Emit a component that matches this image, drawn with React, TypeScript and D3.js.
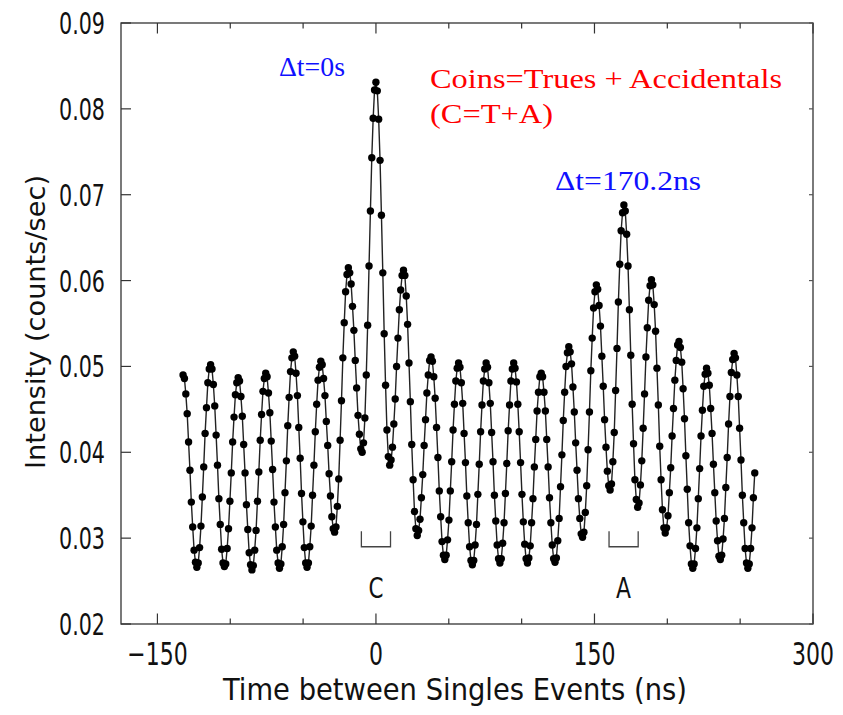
import React from "react";
import * as d3 from "d3";

// Coincidence-timing histogram: intensity (×1e-4 counts/sec) per time bin
const BIN_START = -132.4; // ns, first bin
const BIN_WIDTH = 0.9456; // ns per bin
const intensityE4: number[] = [
  490, 486, 468, 445, 412, 379, 342, 313, 286, 272,
  266, 271, 289, 314, 348, 383, 422, 452, 481, 497,
  502, 497, 479, 454, 420, 385, 346, 316, 287, 271,
  267, 270, 288, 311, 343, 376, 412, 441, 467, 481,
  487, 483, 465, 442, 409, 376, 339, 310, 283, 269,
  263, 268, 286, 309, 343, 377, 414, 444, 471, 486,
  492, 488, 469, 446, 413, 380, 342, 313, 286, 271,
  265, 270, 290, 316, 353, 390, 431, 464, 494, 510,
  517, 512, 492, 466, 429, 393, 352, 319, 289, 271,
  266, 271, 290, 314, 350, 385, 424, 456, 484, 499,
  506, 502, 486, 466, 436, 408, 375, 349, 325, 311,
  307, 313, 337, 369, 414, 460, 510, 551, 587, 607,
  615, 609, 596, 570, 542, 507, 475, 443, 421, 404,
  400, 411, 440, 490, 548, 617, 681, 743, 789, 822,
  831, 821, 788, 740, 676, 609, 538, 478, 426, 395,
  385, 391, 406, 433, 462, 500, 533, 566, 589, 606,
  612, 606, 582, 549, 504, 459, 409, 368, 331, 311,
  303, 309, 322, 347, 374, 408, 438, 469, 490, 507,
  511, 506, 488, 463, 429, 394, 355, 325, 296, 280,
  275, 280, 298, 321, 355, 389, 426, 456, 483, 498,
  504, 499, 481, 457, 422, 388, 349, 318, 290, 274,
  269, 274, 292, 316, 351, 386, 424, 455, 483, 497,
  504, 499, 481, 457, 423, 389, 350, 320, 292, 276,
  271, 276, 294, 318, 352, 387, 425, 455, 483, 497,
  504, 498, 482, 456, 424, 388, 351, 319, 293, 276,
  271, 277, 291, 318, 346, 383, 415, 448, 470, 488,
  492, 488, 470, 448, 415, 383, 347, 318, 292, 276,
  272, 277, 297, 323, 360, 397, 437, 470, 500, 516,
  523, 517, 503, 476, 447, 411, 379, 346, 323, 305,
  301, 307, 330, 361, 403, 447, 495, 533, 568, 587,
  595, 590, 571, 547, 512, 477, 438, 406, 378, 361,
  356, 363, 389, 423, 472, 521, 575, 619, 658, 679,
  688, 681, 654, 617, 566, 513, 456, 410, 368, 345,
  336, 341, 362, 390, 428, 468, 511, 545, 577, 594,
  601, 595, 572, 541, 498, 455, 407, 368, 333, 312,
  306, 312, 326, 353, 382, 419, 451, 484, 507, 525,
  529, 522, 505, 474, 439, 396, 357, 318, 291, 270,
  265, 270, 288, 312, 346, 381, 419, 449, 477, 491,
  498, 492, 478, 451, 422, 386, 353, 320, 297, 279,
  275, 280, 299, 323, 359, 394, 433, 465, 493, 508,
  515, 510, 490, 465, 428, 391, 350, 318, 288, 271,
  265, 270, 288, 312, 347, 376,
];

const xTicks = [-150, -100, -50, 0, 50, 100, 150, 200, 250, 300];
const xTickLabels = [-150, 0, 150, 300];
const yTicks = [0.02, 0.03, 0.04, 0.05, 0.06, 0.07, 0.08, 0.09];
const brackets = [
  { label: "C", from: -10, to: 10 },
  { label: "A", from: 160, to: 180 },
];
const bracketTop = 0.0308;
const bracketBottom = 0.029;
const bracketLabelY = 0.0243;

const W = 843;
const H = 715;
const M = { left: 121, right: 813, top: 23, bottom: 624 };
const SANS = "'DejaVu Sans', sans-serif";
const SERIF = "'Liberation Serif', 'Times New Roman', serif";

function labelWidth(s: string) {
  // narrow stroke-font widths
  let w = 0;
  for (const c of s) w += c === "." ? 8 : c === "\u2212" ? 20 : 14;
  return w;
}

export default function App() {
  const x = d3.scaleLinear().domain([-175, 300]).range([M.left, M.right]);
  const y = d3.scaleLinear().domain([0.02, 0.09]).range([M.bottom, M.top]);
  const pts = intensityE4.map((v, i) => ({ t: BIN_START + i * BIN_WIDTH, v: v / 10000 }));
  const line = d3
    .line<{ t: number; v: number }>()
    .x((d) => x(d.t))
    .y((d) => y(d.v));

  return (
    <svg
      width={W}
      height={H}
      style={{ position: "absolute", left: 0, top: 0, background: "#fff" }}
    >
      <rect x={0} y={0} width={W} height={H} fill="#fff" />
      {/* frame */}
      <rect
        x={M.left}
        y={M.top}
        width={M.right - M.left}
        height={M.bottom - M.top}
        fill="none"
        stroke="#333"
        strokeWidth={1.3}
      />
      {/* x ticks bottom and top */}
      {xTicks.map((t) => {
        const major = xTickLabels.includes(t);
        const len = major ? 10.5 : 5.5;
        return (
          <g key={"xt" + t}>
            <line x1={x(t)} x2={x(t)} y1={M.bottom} y2={M.bottom - len} stroke="#333" strokeWidth={1.2} />
            <line x1={x(t)} x2={x(t)} y1={M.top} y2={M.top + len} stroke="#333" strokeWidth={1.2} />
          </g>
        );
      })}
      {xTickLabels.map((t) => {
        const s = t < 0 ? "\u2212" + Math.abs(t) : String(t);
        return (
          <text
            key={"xl" + t}
            transform={`translate(${x(t)},665) scale(1,1.45)`}
            textAnchor="middle"
            fontFamily={SANS}
            fontSize={22}
            fill="#111"
          >
            {s}
          </text>
        );
      })}
      {/* y ticks */}
      {yTicks.map((t) => {
        const s = t.toFixed(2);
        return (
          <g key={"yt" + t}>
            <line x1={M.left} x2={M.left + 10} y1={y(t)} y2={y(t)} stroke="#333" strokeWidth={1.2} />
            <line x1={M.right} x2={M.right - 4} y1={y(t)} y2={y(t)} stroke="#555" strokeWidth={1.2} />
            <text
              x={105}
              y={y(t) + 11}
              textAnchor="end"
              fontFamily={SANS}
              fontSize={31}
              fill="#111"
              textLength={labelWidth(s) - 4}
              lengthAdjust="spacingAndGlyphs"
            >
              {s}
            </text>
          </g>
        );
      })}
      {/* axis titles */}
      <text
        x={455}
        y={700}
        textAnchor="middle"
        fontFamily={SANS}
        fontSize={30}
        fill="#111"
        textLength={464}
        lengthAdjust="spacingAndGlyphs"
      >
        Time between Singles Events (ns)
      </text>
      <text
        transform={`translate(45, 322) rotate(-90)`}
        textAnchor="middle"
        fontFamily={SANS}
        fontSize={27}
        fill="#111"
        textLength={294}
        lengthAdjust="spacingAndGlyphs"
      >
        Intensity (counts/sec)
      </text>
      {/* data */}
      <path d={line(pts) || ""} fill="none" stroke="#222" strokeWidth={1.4} />
      {pts.map((d, i) => (
        <circle key={i} cx={x(d.t)} cy={y(d.v)} r={3.7} fill="#000" />
      ))}
      {/* brackets */}
      {brackets.map((b) => (
        <g key={b.label}>
          <path
            d={`M${x(b.from)},${y(bracketTop)}V${y(bracketBottom)}H${x(b.to)}V${y(bracketTop)}`}
            fill="none"
            stroke="#444"
            strokeWidth={1.3}
          />
          <text
            x={x((b.from + b.to) / 2)}
            y={y(bracketLabelY) + 11}
            textAnchor="middle"
            fontFamily={SANS}
            fontSize={29}
            fill="#111"
            textLength={15}
            lengthAdjust="spacingAndGlyphs"
          >
            {b.label}
          </text>
        </g>
      ))}
      {/* annotations */}
      <text x={279} y={76} fontFamily={SERIF} fontSize={27} fill="#1010ff" textLength={66} lengthAdjust="spacingAndGlyphs">
        Δt=0s
      </text>
      <text x={430} y={88} fontFamily={SERIF} fontSize={27} fill="#ff0000" textLength={352} lengthAdjust="spacingAndGlyphs">
        Coins=Trues + Accidentals
      </text>
      <text x={430} y={123} fontFamily={SERIF} fontSize={27} fill="#ff0000" textLength={123} lengthAdjust="spacingAndGlyphs">
        (C=T+A)
      </text>
      <text x={555} y={190} fontFamily={SERIF} fontSize={27} fill="#1010ff" textLength={146} lengthAdjust="spacingAndGlyphs">
        Δt=170.2ns
      </text>
    </svg>
  );
}
